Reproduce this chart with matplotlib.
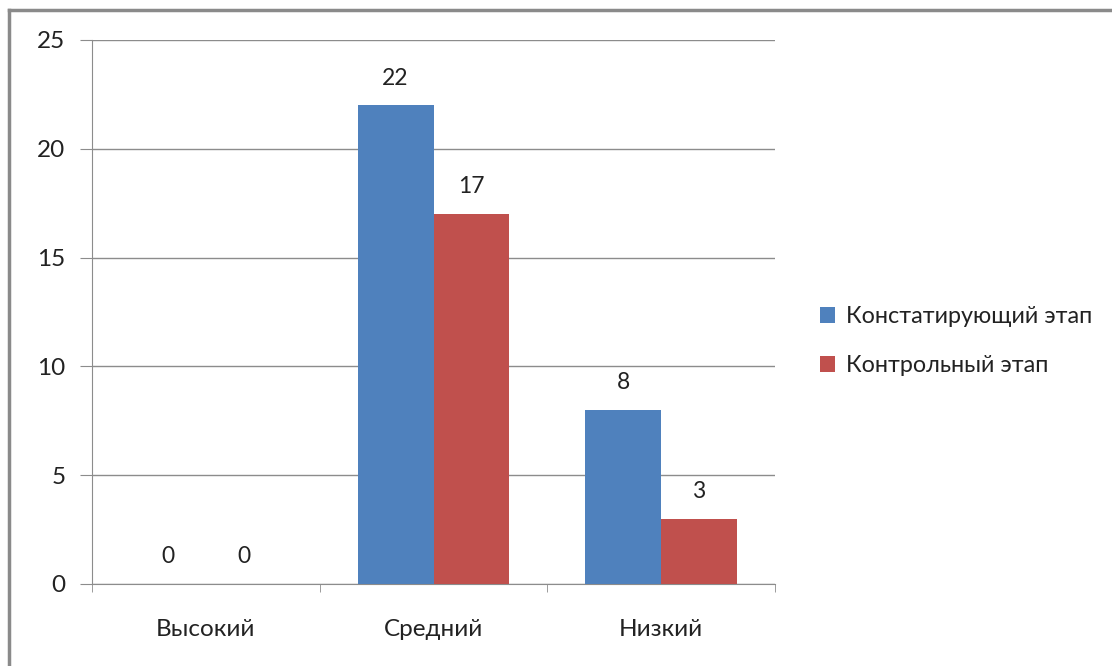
import numpy as np
import matplotlib.pyplot as plt
from matplotlib.lines import Line2D

plt.rcParams['font.family'] = ['Lato', 'DejaVu Sans']

categories = ['Высокий', 'Средний', 'Низкий']
series_names = ['Констатирующий этап', 'Контрольный этап']
konst = [0, 22, 8]
kontrol = [0, 17, 3]
colors = ['#4F81BD', '#C0504D']

fig = plt.figure(figsize=(11.12, 6.66), dpi=100)
ax = fig.add_axes([92/1112, 1 - 584/666, (775-92)/1112, (584-40)/666])

x = np.arange(len(categories))
w = 0.333
b1 = ax.bar(x - w/2, konst, w, color=colors[0], label=series_names[0], zorder=3)
b2 = ax.bar(x + w/2, kontrol, w, color=colors[1], label=series_names[1], zorder=3)

for bars, vals in [(b1, konst), (b2, kontrol)]:
    for bar, v in zip(bars, vals):
        ax.annotate(str(v), (bar.get_x() + bar.get_width()/2, v),
                    xytext=(0, 12), textcoords='offset points',
                    ha='center', va='bottom', fontsize=16.5, color='#222222')

ax.set_xlim(-0.5, 2.5)
ax.set_ylim(0, 25)
ax.set_yticks([0, 5, 10, 15, 20, 25])
ax.yaxis.grid(True, color='#8c8c8c', linewidth=1, zorder=0)
ax.set_xticks(x)
ax.set_xticklabels(categories)
ax.set_xticks([-0.5, 0.5, 1.5, 2.5], minor=True)
ax.tick_params(axis='x', which='major', length=0, pad=25, labelsize=17.5, labelcolor='#222222')
ax.tick_params(axis='x', which='minor', length=6, direction='out', color='#8c8c8c')
ax.tick_params(axis='y', length=9, direction='out', color='#8c8c8c', pad=10, labelsize=17.5,
               labelcolor='#222222')

for s in ['top', 'right']:
    ax.spines[s].set_visible(False)
for s in ['left', 'bottom']:
    ax.spines[s].set_color('#8c8c8c')

leg = fig.legend(handles=[b1, b2], loc='center left', bbox_to_anchor=(799/1112, 1 - 341/666),
                 frameon=False, fontsize=16.8, handlelength=0.65, handleheight=0.65,
                 handletextpad=0.45, labelspacing=1.2)
for t in leg.get_texts():
    t.set_color('#222222')

# frame lines at top and left
fig.add_artist(Line2D([9/1112, 1], [1 - 10/666, 1 - 10/666], color='#8a8a8a', linewidth=2.5))
fig.add_artist(Line2D([9/1112, 9/1112], [0, 1 - 10/666], color='#8a8a8a', linewidth=2.5))

fig.savefig('out.png', dpi=100)
